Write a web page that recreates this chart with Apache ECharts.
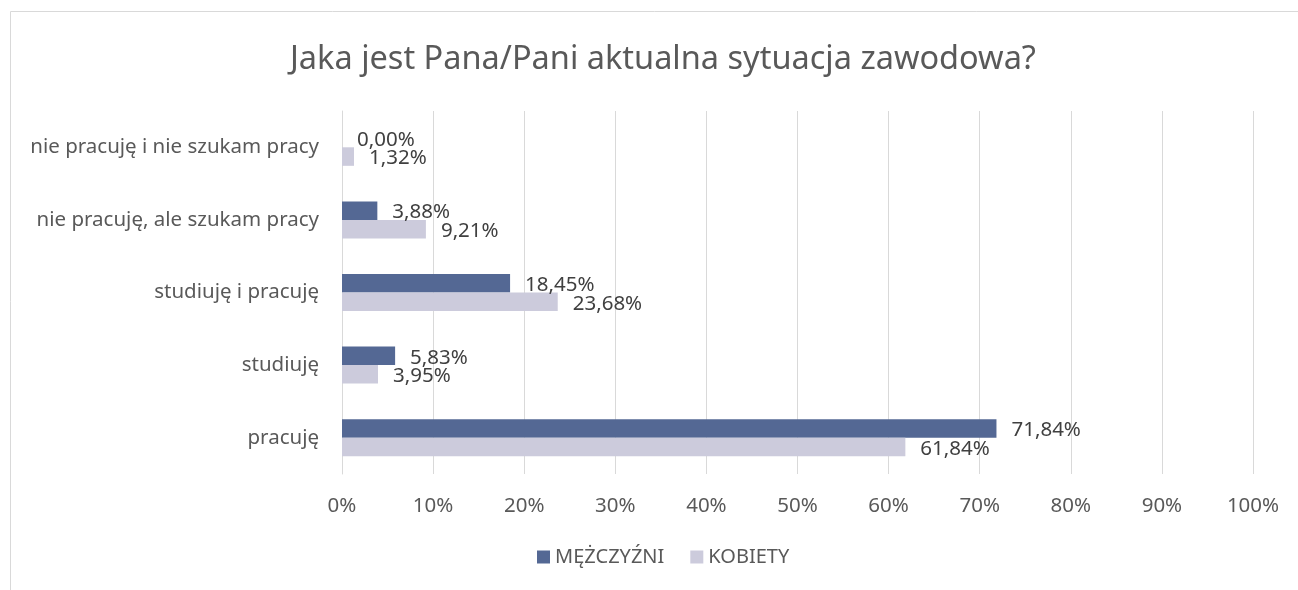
<!DOCTYPE html>
<html>
<head>
<meta charset="utf-8">
<script src="https://cdn.jsdelivr.net/npm/echarts@6/dist/echarts.min.js"></script>
<style>
html,body{margin:0;padding:0;background:#fff;}
#main{width:1298px;height:590px;}
</style>
</head>
<body>
<div id="main"></div>
<script>
var kategorie = ['pracuję', 'studiuję', 'studiuję i pracuję', 'nie pracuję, ale szukam pracy', 'nie pracuję i nie szukam pracy'];//od dołu
var mezczyzni = [71.84, 5.83, 18.45, 3.88, 0.00];
var kobiety = [61.84, 3.95, 23.68, 9.21, 1.32];
var osX = [0, 10, 20, 30, 40, 50, 60, 70, 80, 90, 100];//podziałka w %
var czcionka = '"Noto Sans", sans-serif';

var myChart = echarts.init(document.getElementById('main'));

function procent(params) {
    return params.value.toFixed(2).replace('.', ',') + '%';
}

var option = {
    animation: false,
    textStyle: {fontFamily: czcionka},
    title: {
        text: 'Jaka jest Pana/Pani aktualna sytuacja zawodowa?',
        left: 285,
        top: 38,
        textStyle: {fontFamily: czcionka, fontSize: 32.5, fontWeight: 'normal', color: '#595959'}
    },
    graphic: [{
        type: 'rect',
        shape: {x: 10.5, y: 11.5, width: 1300, height: 600},
        style: {fill: 'none', stroke: '#d9d9d9', lineWidth: 1},
        silent: true
    }],
    legend: {
        data: ['MĘŻCZYŹNI', 'KOBIETY'],
        bottom: 18,
        left: 532,
        itemWidth: 13,
        itemHeight: 13,
        itemGap: 26,
        icon: 'rect',
        textStyle: {fontFamily: czcionka, fontSize: 20, color: '#595959'}
    },
    grid: {
        left: 342,
        right: 45,
        top: 111,
        height: 363,
        containLabel: false
    },
    xAxis: {
        type: 'value',
        min: osX[0],
        max: osX[osX.length - 1],
        interval: osX[1] - osX[0],
        axisLine: {show: false},
        axisTick: {show: false},
        splitLine: {lineStyle: {color: '#d9d9d9', width: 1}},
        axisLabel: {
            margin: 22,
            fontFamily: czcionka,
            fontSize: 20.5,
            color: '#595959',
            formatter: function (v) { return v + '%'; }
        }
    },
    yAxis: {
        type: 'category',
        data: kategorie,
        axisLine: {lineStyle: {color: '#d9d9d9'}},
        axisTick: {show: false},
        axisLabel: {margin: 23, fontFamily: czcionka, fontSize: 20.5, color: '#595959'}
    },
    series: [
        {
            name: 'MĘŻCZYŹNI',
            type: 'bar',
            data: mezczyzni,
            barGap: '0%',
            barCategoryGap: '49%',
            itemStyle: {color: '#546894'},
            label: {show: true, position: 'right', distance: 15, offset: [0, 2], fontFamily: czcionka, fontSize: 20.5, color: '#404040', formatter: procent}
        },
        {
            name: 'KOBIETY',
            type: 'bar',
            data: kobiety,
            barGap: '0%',
            barCategoryGap: '49%',
            itemStyle: {color: '#cccbdc'},
            label: {show: true, position: 'right', distance: 15, offset: [0, 2], fontFamily: czcionka, fontSize: 20.5, color: '#404040', formatter: procent}
        }
    ]
};
myChart.setOption(option);
</script>
</body>
</html>
